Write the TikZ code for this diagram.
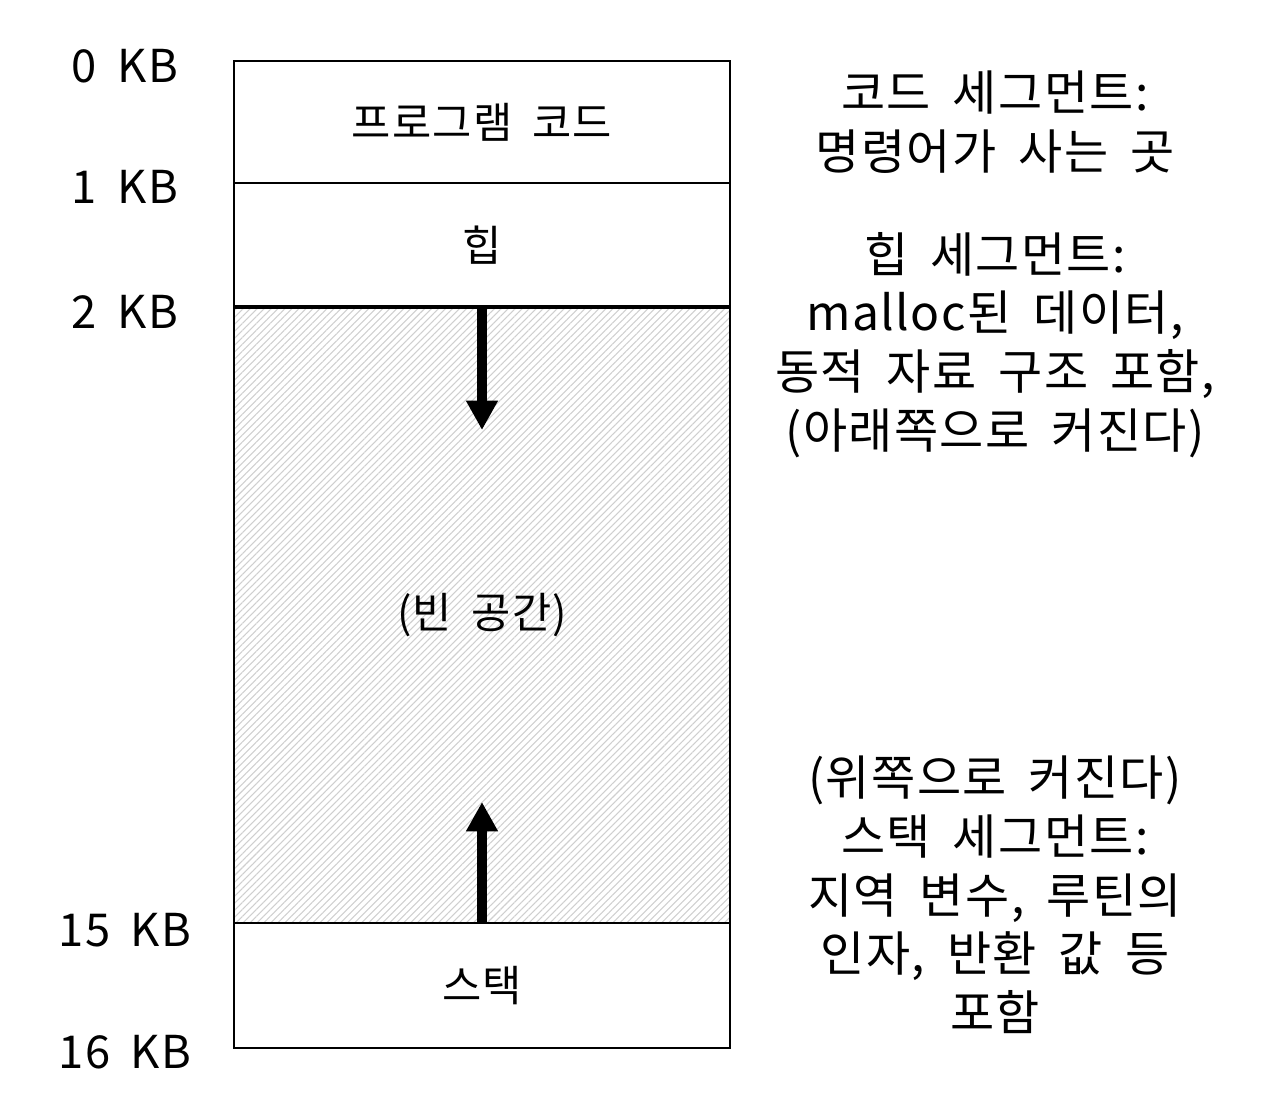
\documentclass[tikz,border=0pt]{standalone}
\usepackage{fontspec}
\setmainfont{Noto Sans CJK KR}[WordSpace=1.8, LetterSpace=3]
\usetikzlibrary{positioning, arrows.meta, patterns.meta}

\begin{document}
\begin{tikzpicture}[
        x=0.75pt, y=-0.75pt,
        line width=1.5pt,
        seg/.style={rectangle, draw, minimum width=372pt, inner sep=0pt, outer sep=0pt, font=\fontsize{32}{38}\selectfont},
        hatched/.style={seg, pattern={Lines[angle=45, distance=3.7pt, line width=0.8pt]}, pattern color=gray!38},
        addr/.style={font=\fontsize{34}{40}\selectfont},
        note/.style={align=center, font=\fontsize{36}{44}\selectfont},
        growarrow/.style={line width=7.5pt, -{Triangle[width=22.5pt, length=22pt]}}
    ]
    \useasboundingbox (0,0) rectangle (1275,1110);

    % --- Address space segments ---
    \node (code) [seg, minimum height=91.5pt, anchor=north west] at (234,61) {프로그램 코드};
    \node (heap) [seg, minimum height=93pt, below=0pt of code] {힙};
    \node (free) [hatched, minimum height=462pt, below=0pt of heap] {(빈 공간)};
    \node (stack) [seg, minimum height=93.75pt, below=0pt of free] {스택};
    \draw[line width=3pt] (heap.south west) -- (heap.south east);

    % --- Growth directions ---
    \coordinate (heaptip) at (482,430);
    \coordinate (stacktip) at (482,802);
    \draw[growarrow] (heap.south) -- (heaptip);
    \draw[growarrow] (stack.north) -- (stacktip);

    % --- Addresses ---
    \node (kb0) [addr] at (125,66) {0 KB};
    \node (kb1) [addr] at (125,187) {1 KB};
    \node (kb2) [addr] at (125,312) {2 KB};
    \node (kb15) [addr] at (125,930) {15 KB};
    \node (kb16) [addr] at (125,1052) {16 KB};

    % --- Segment notes ---
    \node (codenote) [note] at (995,122) {코드 세그먼트:\\명령어가 사는 곳};
    \node (heapnote) [note] at (995,345) {힙 세그먼트:\\malloc된 데이터,\\동적 자료 구조 포함,\\(아래쪽으로 커진다)};
    \node (stacknote) [note] at (995,895) {(위쪽으로 커진다)\\스택 세그먼트:\\지역 변수, 루틴의\\인자, 반환 값 등\\포함};

\end{tikzpicture}
\end{document}
